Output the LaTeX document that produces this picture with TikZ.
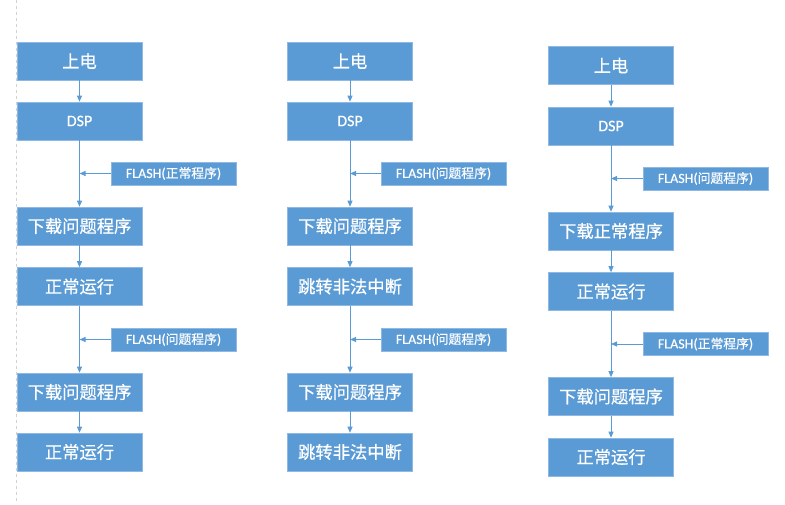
\documentclass[tikz,border=0pt]{standalone}
\usepackage{fontspec}
\newfontfamily\cjk[FakeBold=0.5]{Noto Sans CJK SC}
\newfontfamily\lat[FakeBold=0.4]{Carlito}
\usetikzlibrary{arrows.meta}
\definecolor{boxblue}{HTML}{5B9BD5}
\definecolor{boxedge}{HTML}{8FB8E2}
\definecolor{linkblue}{HTML}{5B9BD5}
\newcommand{\flashtxt}[1]{{\lat FLASH(}{\cjk\fontsize{12.8}{14}\selectfont #1}{\lat )}}
\begin{document}
\begin{tikzpicture}[x=1pt,y=-1pt,
  bigbox/.style={draw=boxedge,line width=0.6pt,fill=boxblue,text=white,minimum width=125pt,minimum height=38pt,inner sep=0pt,font=\cjk\fontsize{17.3}{19}\selectfont},
  dspbox/.style={bigbox,font=\lat\fontsize{16}{18}\selectfont},
  flashbox/.style={draw=boxedge,line width=0.6pt,fill=boxblue,text=white,minimum width=125pt,minimum height=23pt,inner sep=0pt,font=\lat\fontsize{14}{15}\selectfont},
  link/.style={draw=linkblue,line width=0.9pt,-{Triangle[length=6pt,width=5pt]}}]
\useasboundingbox (0,0) rectangle (785,505);
\draw[gray!35,dashed,line width=0.6pt] (16,0) -- (16,502);
% column 1
\node[bigbox] (a1) at (79.5,61) {上电};
\node[dspbox] (a2) at (79.5,121) {DSP};
\node[flashbox] (af1) at (173.5,173.5) {\flashtxt{正常程序}};
\node[bigbox] (a3) at (79.5,226) {下载问题程序};
\node[bigbox] (a4) at (79.5,286.5) {正常运行};
\node[flashbox] (af2) at (173.5,339.5) {\flashtxt{问题程序}};
\node[bigbox] (a5) at (79.5,392) {下载问题程序};
\node[bigbox] (a6) at (79.5,452) {正常运行};
\coordinate (ac1) at (a2.south |- af1.west);
\coordinate (ac2) at (a4.south |- af2.west);
\draw[link] (a1) -- (a2);
\draw[link] (a2) -- (a3);
\draw[link] (af1.west) -- (ac1);
\draw[link] (a3) -- (a4);
\draw[link] (a4) -- (a5);
\draw[link] (af2.west) -- (ac2);
\draw[link] (a5) -- (a6);
% column 2
\node[bigbox] (b1) at (350,61) {上电};
\node[dspbox] (b2) at (350,121) {DSP};
\node[flashbox] (bf1) at (443.5,173.5) {\flashtxt{问题程序}};
\node[bigbox] (b3) at (350,226) {下载问题程序};
\node[bigbox] (b4) at (350,286.5) {跳转非法中断};
\node[flashbox] (bf2) at (443.5,339.5) {\flashtxt{问题程序}};
\node[bigbox] (b5) at (350,392) {下载问题程序};
\node[bigbox] (b6) at (350,452) {跳转非法中断};
\coordinate (bc1) at (b2.south |- bf1.west);
\coordinate (bc2) at (b4.south |- bf2.west);
\draw[link] (b1) -- (b2);
\draw[link] (b2) -- (b3);
\draw[link] (bf1.west) -- (bc1);
\draw[link] (b3) -- (b4);
\draw[link] (b4) -- (b5);
\draw[link] (bf2.west) -- (bc2);
\draw[link] (b5) -- (b6);
% column 3
\node[bigbox] (c1) at (611,65.5) {上电};
\node[dspbox] (c2) at (611,126) {DSP};
\node[flashbox] (cf1) at (705.5,178.5) {\flashtxt{问题程序}};
\node[bigbox] (c3) at (611,231) {下载正常程序};
\node[bigbox] (c4) at (611,291.5) {正常运行};
\node[flashbox] (cf2) at (705.5,344) {\flashtxt{正常程序}};
\node[bigbox] (c5) at (611,396.5) {下载问题程序};
\node[bigbox] (c6) at (611,457) {正常运行};
\coordinate (cc1) at (c2.south |- cf1.west);
\coordinate (cc2) at (c4.south |- cf2.west);
\draw[link] (c1) -- (c2);
\draw[link] (c2) -- (c3);
\draw[link] (cf1.west) -- (cc1);
\draw[link] (c3) -- (c4);
\draw[link] (c4) -- (c5);
\draw[link] (cf2.west) -- (cc2);
\draw[link] (c5) -- (c6);
\end{tikzpicture}
\end{document}
